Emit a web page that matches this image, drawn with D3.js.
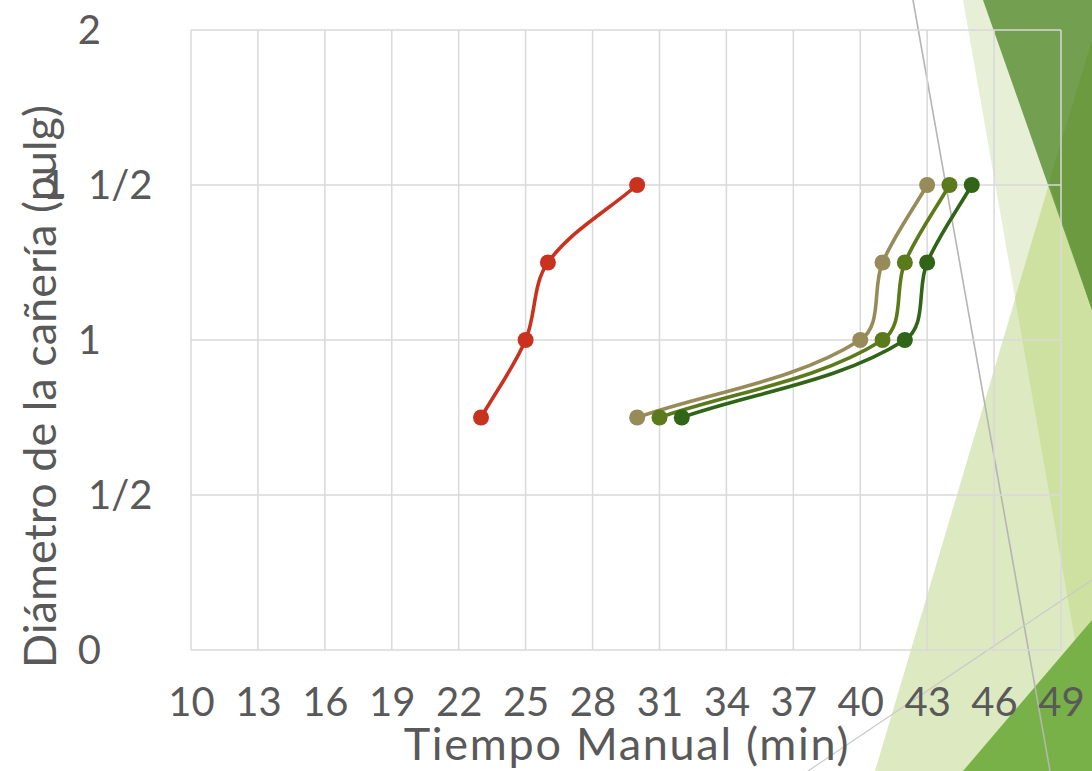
<!DOCTYPE html>
<html>
<head>
<meta charset="utf-8">
<script src="https://cdn.jsdelivr.net/npm/d3@7"></script>
<style>
  html, body { margin: 0; padding: 0; background: #ffffff; }
  svg { display: block; }
  text { font-family: Lato, "Open Sans", sans-serif; fill: #595959; }
</style>
</head>
<body>
<svg id="chart" width="1092" height="771"></svg>
<script>
// Pipe diameter (inches) vs manual time (minutes), four series
const diameters = [0.75, 1, 1.25, 1.5];
const seriesNames = ["Serie 1", "Serie 2", "Serie 3", "Serie 4"];
const timesSerie1 = [23, 25, 26, 30];
const timesSerie2 = [30, 40, 41, 43];
const timesSerie3 = [31, 41, 42, 44];
const timesSerie4 = [32, 42, 43, 45];
const seriesColors = ["#c8321e", "#978b59", "#5b7a1b", "#306417"];

const xTicks = [10, 13, 16, 19, 22, 25, 28, 31, 34, 37, 40, 43, 46, 49];
const yTicks = [0, 0.5, 1, 1.5, 2];
const yTickWhole = ["0", "", "1", "1", "2"];
const yTickFraction = ["", "1/2", "", "1/2", ""];

const xTitle = "Tiempo Manual (min)";
const yTitle = "Diámetro de la cañería (pulg)";

const svg = d3.select("#chart");

// Slide background decoration (overlapping green triangles and thin rules)
const deco = svg.append("g");
const shapes = [
  { pts: [[963,0],[1092,0],[1092,737]], fill: "#e7efd6" },
  { pts: [[1092,40],[875,771],[1092,771]], fill: "#dce9c1" },
  { pts: [[1092,40],[1015,298],[1092,737]], fill: "#cfe1a0" },
  { pts: [[983,0],[1092,0],[1092,310]], fill: "#739f51" },
  { pts: [[1092,40],[1049,182],[1092,310]], fill: "#6b9a40" },
  { pts: [[963,771],[1092,620],[1092,771]], fill: "#78b148" }
];
deco.selectAll("polygon").data(shapes).join("polygon")
  .attr("points", d => d.pts.map(p => p.join(",")).join(" "))
  .attr("fill", d => d.fill);
deco.append("line").attr("x1", 913).attr("y1", 0).attr("x2", 1050).attr("y2", 771)
  .attr("stroke", "#b5b5b5").attr("stroke-width", 1.6);
deco.append("line").attr("x1", 808).attr("y1", 771).attr("x2", 1092).attr("y2", 580)
  .attr("stroke", "#c9c9c9").attr("stroke-width", 1.2);

// Scales
const x = d3.scaleLinear().domain([10, 49]).range([191, 1061]);
const y = d3.scaleLinear().domain([0, 2]).range([650, 30]);

// Gridlines
const grid = svg.append("g");
grid.selectAll("line.v").data(xTicks).join("line").attr("class", "v")
  .attr("x1", d => x(d)).attr("x2", d => x(d))
  .attr("y1", y(0)).attr("y2", y(2))
  .attr("stroke", "#d9d9d9").attr("stroke-width", 1.5);
grid.selectAll("line.h").data(yTicks).join("line").attr("class", "h")
  .attr("x1", x(10)).attr("x2", x(49))
  .attr("y1", d => y(d)).attr("y2", d => y(d))
  .attr("stroke", "#d9d9d9").attr("stroke-width", 1.5);

// X axis (labels only)
const xAxis = d3.axisBottom(x).tickValues(xTicks).tickSize(0).tickPadding(0);
const gx = svg.append("g").attr("transform", `translate(0,${y(0)})`).call(xAxis);
gx.select(".domain").remove();
gx.selectAll("text")
  .attr("dy", null).attr("y", 66)
  .style("font-size", "40px").style("font-family", "Lato, 'Open Sans', sans-serif")
  .attr("fill", "#595959");

// Y axis labels in mixed-fraction form
const ylab = svg.append("g");
yTicks.forEach((v, i) => {
  const base = y(v) + 14;
  if (yTickFraction[i]) {
    ylab.append("text").attr("x", 88).attr("y", base)
      .attr("text-anchor", "start").style("font-size", "40px").text(yTickFraction[i]);
    if (yTickWhole[i]) {
      ylab.append("text").attr("x", 66).attr("y", base)
        .attr("text-anchor", "end").style("font-size", "40px").text(yTickWhole[i]);
    }
  } else {
    ylab.append("text").attr("x", 101).attr("y", base)
      .attr("text-anchor", "end").style("font-size", "40px").text(yTickWhole[i]);
  }
});

// Axis titles
svg.append("text")
  .attr("x", 627).attr("y", 760)
  .attr("text-anchor", "middle")
  .style("font-size", "45px")
  .style("letter-spacing", "1.7px")
  .text(xTitle);
svg.append("text")
  .attr("transform", "translate(55.5,386.5) rotate(-90)")
  .attr("text-anchor", "middle")
  .style("font-size", "45px")
  .text(yTitle);

// Smoothed line: cubic Bézier per segment, tangent along the neighbour chord,
// handle length a third of the segment length
function smoothPath(pts) {
  const n = pts.length;
  const unit = (a, b) => {
    const dx = b[0] - a[0], dy = b[1] - a[1];
    const l = Math.hypot(dx, dy) || 1;
    return [dx / l, dy / l];
  };
  const dirs = pts.map((p, i) => {
    if (i === 0) return unit(pts[0], pts[1]);
    if (i === n - 1) return unit(pts[n - 2], pts[n - 1]);
    return unit(pts[i - 1], pts[i + 1]);
  });
  const path = d3.path();
  path.moveTo(pts[0][0], pts[0][1]);
  for (let i = 0; i < n - 1; i++) {
    const a = pts[i], b = pts[i + 1];
    const L = Math.hypot(b[0] - a[0], b[1] - a[1]) / 3;
    path.bezierCurveTo(
      a[0] + dirs[i][0] * L, a[1] + dirs[i][1] * L,
      b[0] - dirs[i + 1][0] * L, b[1] - dirs[i + 1][1] * L,
      b[0], b[1]);
  }
  return path.toString();
}

// Series
const allSeries = [timesSerie1, timesSerie2, timesSerie3, timesSerie4].map((times, i) => ({
  name: seriesNames[i],
  color: seriesColors[i],
  points: times.map((t, j) => ({ t, d: diameters[j] }))
}));

const gs = svg.append("g").selectAll("g").data(allSeries).join("g");
gs.append("path")
  .attr("d", s => smoothPath(s.points.map(p => [x(p.t), y(p.d)])))
  .attr("fill", "none")
  .attr("stroke", s => s.color)
  .attr("stroke-width", 3.6)
  .attr("stroke-linecap", "round");
gs.selectAll("circle").data(s => s.points.map(p => ({ ...p, color: s.color }))).join("circle")
  .attr("cx", p => x(p.t)).attr("cy", p => y(p.d))
  .attr("r", 8)
  .attr("fill", p => p.color);
</script>
</body>
</html>
